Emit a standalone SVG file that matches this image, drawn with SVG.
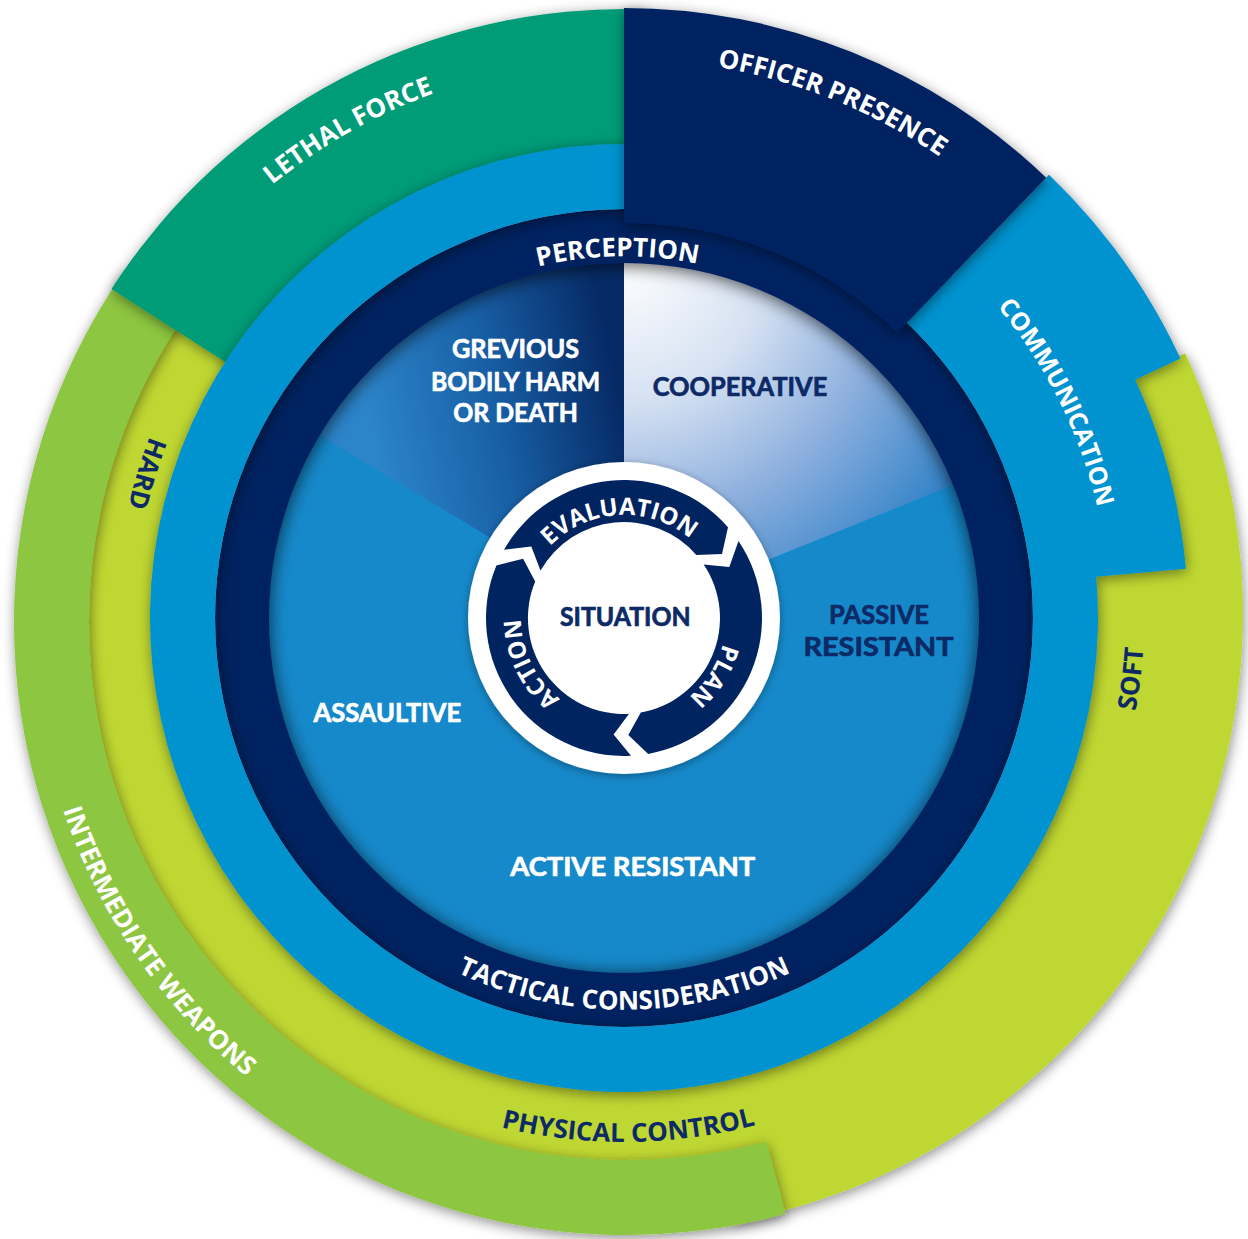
<svg xmlns="http://www.w3.org/2000/svg" width="1248" height="1239" viewBox="0 0 1248 1239">
<defs>
<style>
text { font-family: 'Open Sans', 'Liberation Sans', sans-serif; font-weight: 700; }
text.s { font-family: Lato, 'Liberation Sans', sans-serif; font-weight: 700; stroke-width: 0.7px; stroke-linejoin: round; }
.w { fill: #ffffff; }
.n { fill: #0d2a66; }
text.s.w { stroke: #ffffff; }
text.s.n { stroke: #0d2a66; }
.f26 { font-size: 26px; }
.f25 { font-size: 25px; }
.f24 { font-size: 24px; }
.navy { fill: #002460; }
</style>
<filter id="sh" x="-10%" y="-10%" width="120%" height="120%">
<feDropShadow dx="1" dy="3" stdDeviation="6.5" flood-color="#000" flood-opacity="0.45"/>
</filter>
<filter id="shN" x="-10%" y="-10%" width="120%" height="120%">
<feDropShadow dx="0" dy="2" stdDeviation="9" flood-color="#000" flood-opacity="0.7"/>
</filter>
<filter id="shC" x="-20%" y="-20%" width="140%" height="140%">
<feDropShadow dx="0" dy="2" stdDeviation="4" flood-color="#000" flood-opacity="0.35"/>
</filter>
<radialGradient id="gCoop" gradientUnits="userSpaceOnUse" cx="624" cy="262" r="400">
<stop offset="0" stop-color="#ffffff"/>
<stop offset="0.35" stop-color="#d5e1f2"/>
<stop offset="0.65" stop-color="#8eb0de"/>
<stop offset="1" stop-color="#2e80c6"/>
</radialGradient>
<linearGradient id="gGbh" gradientUnits="userSpaceOnUse" x1="624" y1="420" x2="380" y2="470">
<stop offset="0" stop-color="#062a66"/>
<stop offset="0.5" stop-color="#185fa5"/>
<stop offset="1" stop-color="#2c84c9"/>
</linearGradient>
<path id="tpLethal" d="M 98.0 804.3 A 558 558 0 0 1 1054.6 263.1"/>
<path id="tpOfficer" d="M 150.0 321.8 A 559 559 0 0 1 1170.8 734.2"/>
<path id="tpComm" d="M 486.0 152.0 A 486 486 0 0 1 913.1 1008.7"/>
<path id="tpPerc" d="M 266.5 561.4 A 362 362 0 0 1 979.3 548.9"/>
<path id="tpTact" d="M 238.0 686.1 A 392 392 0 0 0 1010.0 686.1"/>
<path id="tpPhys" d="M 108.8 713.5 A 524 524 0 0 0 1140.8 704.5"/>
<path id="tpInter" d="M 209.7 196.0 A 594 594 0 0 0 871.9 1160.5"/>
<path id="tpHard" d="M 684.1 113.6 A 508 508 0 0 0 394.9 1071.4"/>
<path id="tpSoft" d="M 653.0 1137.2 A 520 520 0 0 0 774.3 120.2"/>
<path id="tpEval" d="M 521.8 605.4 A 103 103 0 0 1 724.4 594.8"/>
<path id="tpPlan" d="M 693.2 543.0 A 102 102 0 0 1 584.6 712.1"/>
<path id="tpAction" d="M 652.6 717.0 A 103 103 0 0 1 563.3 534.8"/>
</defs>

<rect width="1248" height="1239" fill="#ffffff"/>

<g id="physical-control">
<path filter="url(#sh)" fill="#bfd730" d="M 1185.2 353.3 A 617 617 0 0 1 733.1 1221.6 L 723.2 1165.5 A 560 560 0 0 1 156.3 309.0 L 257.0 374.4 A 440 440 0 1 0 1024.8 428.1 Z"/>
</g>

<g id="intermediate-weapons">
<path filter="url(#sh)" fill="#8dc63f" d="M 785.6 1214.1 A 613 613 0 0 1 124.8 270.4 L 186.3 313.4 A 538 538 0 0 0 766.2 1141.7 Z"/>
</g>

<g id="lethal-force">
<path filter="url(#sh)" fill="#009b77" d="M 111.5 289.0 A 609 609 0 0 1 645.3 9.4 L 639.4 178.3 A 440 440 0 0 0 253.7 380.3 Z"/>
</g>

<g id="subject-behaviour">
<circle cx="624" cy="618" r="358" fill="#1689ca"/>
<path fill="url(#gGbh)" d="M 624 618 L 318.8 434.7 A 356 356 0 0 1 624 262 Z"/>
<path fill="url(#gCoop)" d="M 624 618 L 624 262 A 356 356 0 0 1 954.1 484.6 Z"/>
</g>

<g id="perception-ring">
<path filter="url(#shN)" class="navy" fill-rule="evenodd" d="M 1033 618 A 409 409 0 1 0 215 618 A 409 409 0 1 0 1033 618 Z M 979 618 A 355 355 0 1 0 269 618 A 355 355 0 1 0 979 618 Z"/>
</g>

<g id="communication">
<path filter="url(#sh)" fill="#0093d0" fill-rule="evenodd" d="M 1096.2 576.7 A 474 474 0 1 1 952.0 275.8 L 1049.0 174.8 A 614 614 0 0 1 1180.5 358.5 L 1135.2 379.7 A 564 564 0 0 1 1185.9 568.8 Z M 1033 618 A 409 409 0 1 0 215 618 A 409 409 0 1 0 1033 618 Z"/>
</g>

<g id="officer-presence">
<path filter="url(#sh)" class="navy" d="M 624 8 A 610 610 0 0 1 1046.2 177.7 L 897.5 332.6 A 395 395 0 0 0 624 223 Z"/>
</g>

<g id="labels-outer">
<text class="w f26"><textPath href="#tpLethal" startOffset="50%" text-anchor="middle">LETHAL FORCE</textPath></text>
<text class="w f26"><textPath href="#tpOfficer" startOffset="50%" text-anchor="middle">OFFICER PRESENCE</textPath></text>
<text class="w f25"><textPath href="#tpComm" startOffset="50%" text-anchor="middle">COMMUNICATION</textPath></text>
<text class="w f26"><textPath href="#tpPerc" startOffset="50%" text-anchor="middle">PERCEPTION</textPath></text>
<text class="w f26"><textPath href="#tpTact" startOffset="50%" text-anchor="middle">TACTICAL CONSIDERATION</textPath></text>
<text class="n f26"><textPath href="#tpPhys" startOffset="50%" text-anchor="middle">PHYSICAL CONTROL</textPath></text>
<text class="w f26"><textPath href="#tpInter" startOffset="50%" text-anchor="middle">INTERMEDIATE WEAPONS</textPath></text>
<text class="n f26"><textPath href="#tpHard" startOffset="50%" text-anchor="middle">HARD</textPath></text>
<text class="n f26"><textPath href="#tpSoft" startOffset="50%" text-anchor="middle">SOFT</textPath></text>
</g>

<g id="labels-inner">
<text class="s w f26" text-anchor="middle"><tspan x="515.5" y="358" textLength="127" lengthAdjust="spacingAndGlyphs">GREVIOUS</tspan><tspan x="515.5" y="390.5" textLength="169" lengthAdjust="spacingAndGlyphs">BODILY HARM</tspan><tspan x="515.5" y="422" textLength="124.5" lengthAdjust="spacingAndGlyphs">OR DEATH</tspan></text>
<text class="s n f26" x="740" y="395.5" text-anchor="middle" textLength="174.6" lengthAdjust="spacingAndGlyphs">COOPERATIVE</text>
<text class="s n f26" text-anchor="middle"><tspan x="879" y="623.5" textLength="100" lengthAdjust="spacingAndGlyphs">PASSIVE</tspan><tspan x="878.5" y="655.5" textLength="150" lengthAdjust="spacingAndGlyphs">RESISTANT</tspan></text>
<text class="s w f26" x="387.4" y="722" text-anchor="middle" textLength="147.7" lengthAdjust="spacingAndGlyphs">ASSAULTIVE</text>
<text class="s w f26" x="632.8" y="876" text-anchor="middle" textLength="245" lengthAdjust="spacingAndGlyphs">ACTIVE RESISTANT</text>
</g>

<g id="situation-cycle">
<circle cx="624" cy="618" r="156" fill="#ffffff" filter="url(#shC)"/>
<path class="navy" d="M 504.0 549.8 A 138 138 0 0 1 728.0 527.3 L 722.0 554.1 L 696.3 554.9 A 96 96 0 0 0 540.5 570.6 L 531.3 546.6 Z"/>
<path class="navy" d="M 738.5 541.0 A 138 138 0 0 1 648.2 753.9 L 628.3 734.9 L 640.8 712.5 A 96 96 0 0 0 703.7 564.5 L 729.3 566.9 Z"/>
<path class="navy" d="M 631.0 755.8 A 138 138 0 0 1 496.4 565.4 L 523.1 558.8 L 535.2 581.4 A 96 96 0 0 0 628.9 713.9 L 613.6 734.5 Z"/>
<text class="w f24"><textPath href="#tpEval" startOffset="50%" text-anchor="middle">EVALUATION</textPath></text>
<text class="w f24"><textPath href="#tpPlan" startOffset="50%" text-anchor="middle">PLAN</textPath></text>
<text class="w f24"><textPath href="#tpAction" startOffset="50%" text-anchor="middle">ACTION</textPath></text>
<text class="s n f26" x="625.3" y="625.7" text-anchor="middle" textLength="130.7" lengthAdjust="spacingAndGlyphs">SITUATION</text>
</g>
</svg>
